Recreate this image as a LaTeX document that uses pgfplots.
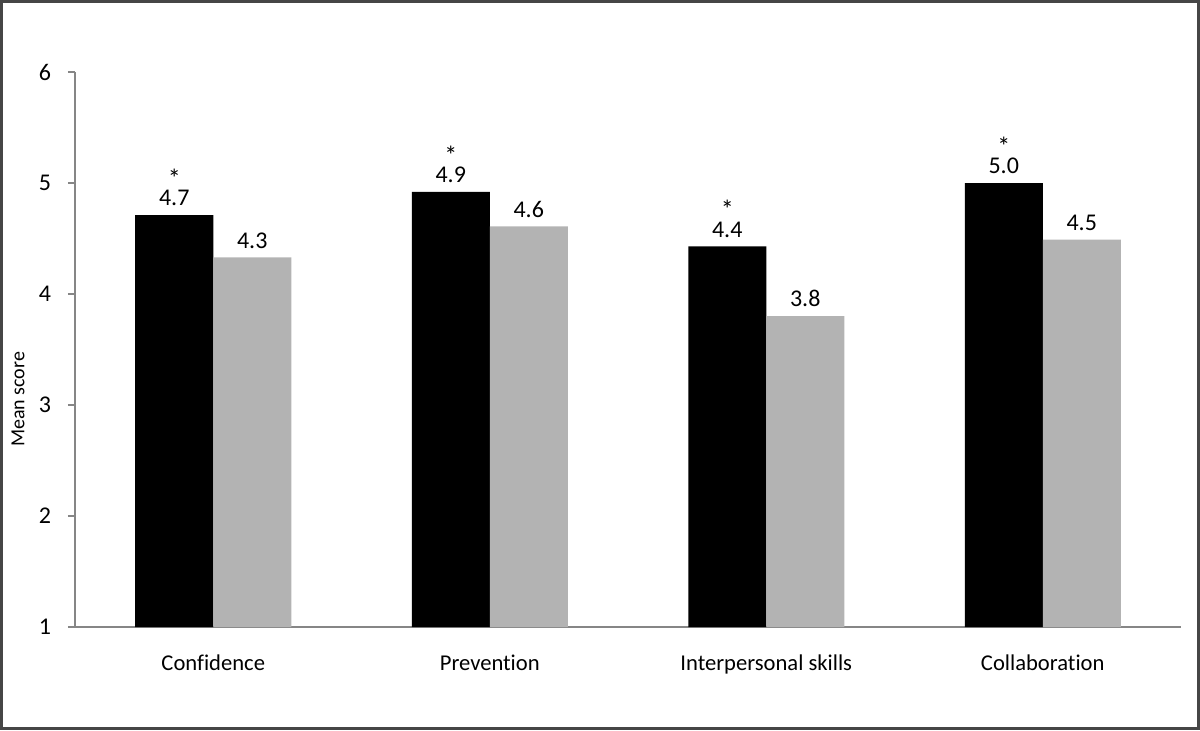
\documentclass[border=0pt]{standalone}
\usepackage{pgfplots}
\pgfplotsset{compat=1.18}
\usepackage{fontspec}
\setmainfont{Carlito}[Ligatures=NoCommon]
\definecolor{bargray}{RGB}{179,179,179}
\definecolor{axgray}{RGB}{134,134,134}
\definecolor{framegray}{RGB}{70,70,70}
\begin{document}
\begin{tikzpicture}
\path[use as bounding box] (0,0) rectangle (600pt,365pt);
\draw[framegray, line width=1.3pt] (0.65pt,0.65pt) rectangle (599.35pt,364.35pt);
\begin{axis}[
  at={(37.5pt,51.5pt)}, anchor=south west,
  scale only axis, width=553pt, height=277.5pt,
  ybar, ybar=0pt, bar width=39pt,
  xmin=-0.5, xmax=3.5, ymin=1, ymax=6,
  ytick={1,2,3,4,5,6},
  xtick={0,1,2,3},
  xticklabels={Confidence,Prevention,Interpersonal skills,Collaboration},
  minor xtick={-0.5,0.5,1.5,2.5,3.5},
  axis lines*=left,
  axis line style={axgray, line width=0.6pt},
  tick align=outside,
  major tick length=3.5pt,
  minor tick length=4pt,
  every tick/.style={axgray, line width=0.6pt},
  x tick style={draw=none},
  minor x tick style={axgray, line width=0.6pt},
  /pgf/number format/assume math mode=true,
  yticklabel style={font=\fontsize{12}{14}\selectfont, xshift=-5pt},
  xticklabel style={font=\fontsize{11.3}{13}\selectfont, yshift=-7pt},
  ylabel={Mean score},
  ylabel style={font=\fontsize{9}{11}\selectfont},
  every axis y label/.style={at={(axis description cs:-0.0515,0.41)}, rotate=90, anchor=center},
  point meta=explicit symbolic,
  nodes near coords,
  every node near coord/.append style={font=\fontsize{12}{14}\selectfont, text=black, anchor=south, yshift=1pt},
  clip=false,
]
\addplot[fill=black, draw=none, nodes near coords={\shortstack{\fontsize{13}{14}\selectfont *\\[-1.5pt]\pgfplotspointmeta}}] coordinates {(0,4.71) [4.7] (1,4.92) [4.9] (2,4.43) [4.4] (3,5.00) [5.0]};
\addplot[fill=bargray, draw=none] coordinates {(0,4.33) [4.3] (1,4.61) [4.6] (2,3.80) [3.8] (3,4.49) [4.5]};
\end{axis}
\end{tikzpicture}
\end{document}
